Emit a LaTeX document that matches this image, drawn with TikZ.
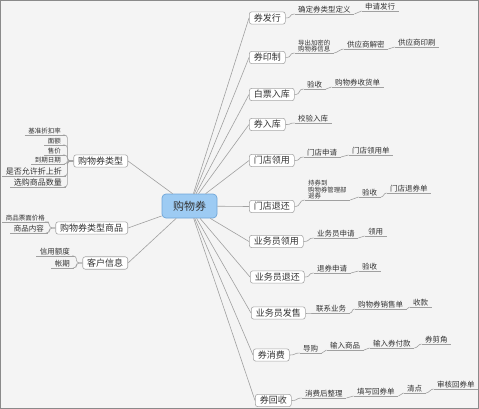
\documentclass[tikz,border=0pt]{standalone}
\usepackage{fontspec}
\setmainfont{Noto Sans CJK SC}
\definecolor{bg}{HTML}{F4F4F4}
\definecolor{frame}{HTML}{8A8A8A}
\definecolor{boxgray}{HTML}{A6A6A6}
\definecolor{linegray}{HTML}{A0A0A0}
\definecolor{txt}{HTML}{333333}
\definecolor{cfill}{HTML}{9DCBF3}
\definecolor{cdraw}{HTML}{6FA6D8}
\tikzset{
  mainbox/.style={draw=boxgray, fill=white, rounded corners=2.5pt, inner xsep=4.5pt, inner ysep=2pt,
    font=\fontsize{9}{10}\selectfont, text=txt, line width=0.6pt},
  centerbox/.style={draw=cdraw, fill=cfill, rounded corners=4pt, minimum width=55pt, minimum height=24pt,
    font=\fontsize{11}{12}\selectfont, text=txt, line width=0.7pt},
  leaf/.style={inner xsep=3.5pt, inner ysep=1pt, font=\fontsize{7.5}{8}\selectfont, text=txt},
  smallleaf/.style={leaf, font=\fontsize{6.5}{7}\selectfont},
  bigleaf/.style={leaf, font=\fontsize{8}{9}\selectfont},
  tinyleaf/.style={leaf, font=\fontsize{6.4}{6.2}\selectfont, align=left},
  conn/.style={draw=linegray, line width=0.6pt},
}
\begin{document}
\begin{tikzpicture}[x=1pt,y=-1pt]
\useasboundingbox (0,0) rectangle (479,409);
\fill[bg] (0,0) rectangle (479,409);
\draw[frame, line width=1pt] (0.5,0.5) rectangle (478.5,408.5);

% center
\node[centerbox] (C) at (189.5,206) {购物券};

% right main nodes
\node[mainbox, anchor=west] (m1) at (249,18) {券发行};
\node[mainbox, anchor=west] (m2) at (249,57.5) {券印制};
\node[mainbox, anchor=west] (m3) at (249,94.5) {白票入库};
\node[mainbox, anchor=west] (m4) at (249,124.5) {券入库};
\node[mainbox, anchor=west] (m5) at (249,160.5) {门店领用};
\node[mainbox, anchor=west] (m6) at (249,206.5) {门店退还};
\node[mainbox, anchor=west] (m7) at (249,241.5) {业务员领用};
\node[mainbox, anchor=west] (m8) at (250,277) {业务员退还};
\node[mainbox, anchor=west] (m9) at (251,313) {业务员发售};
\node[mainbox, anchor=west] (m10) at (253,355) {券消费};
\node[mainbox, anchor=west] (m11) at (255,400.5) {券回收};

% left main nodes
\node[mainbox, anchor=east] (L1) at (128,161) {购物券类型};
\node[mainbox, anchor=east] (L2) at (128,228) {购物券类型商品};
\node[mainbox, anchor=east] (L3) at (128,263) {客户信息};

% main connectors
\foreach \m in {m1,m2,m3,m4,m5,m6,m7,m8,m9,m10,m11}
  \draw[conn] (C) -- (\m.west);
\foreach \m in {L1,L2,L3}
  \draw[conn] (C) -- (\m.east);

% right leaves
\node[leaf, anchor=south west] (r1a) at (294.5,14) {确定券类型定义};
\node[leaf, anchor=south west] (r1b) at (361.5,11) {申请发行};
\node[tinyleaf, anchor=south west] (r2a) at (294.5,53) {导出加密的\\购物券信息};
\node[leaf, anchor=south west] (r2b) at (343.5,49) {供应商解密};
\node[leaf, anchor=south west] (r2c) at (394.5,47) {供应商印刷};
\node[leaf, anchor=south west] (r3a) at (303.5,89) {验收};
\node[leaf, anchor=south west] (r3b) at (331.5,87) {购物券收货单};
\node[leaf, anchor=south west] (r4a) at (294.5,123) {校验入库};
\node[leaf, anchor=south west] (r5a) at (303.5,157) {门店申请};
\node[leaf, anchor=south west] (r5b) at (348.5,155) {门店领用单};
\node[tinyleaf, anchor=south west] (r6a) at (304.5,200) {持券到\\购物券管理部\\退券};
\node[leaf, anchor=south west] (r6b) at (358.5,197) {验收};
\node[leaf, anchor=south west] (r6c) at (386.5,193) {门店退券单};
\node[leaf, anchor=south west] (r7a) at (313.5,238) {业务员申请};
\node[leaf, anchor=south west] (r7b) at (364.5,236) {领用};
\node[leaf, anchor=south west] (r8a) at (313.5,273) {退券申请};
\node[leaf, anchor=south west] (r8b) at (358.5,271) {验收};
\node[leaf, anchor=south west] (r9a) at (312.5,313) {联系业务};
\node[leaf, anchor=south west] (r9b) at (354.5,309) {购物券销售单};
\node[leaf, anchor=south west] (r9c) at (409.5,307) {收款};
\node[leaf, anchor=south west] (r10a) at (299.5,353) {导购};
\node[leaf, anchor=south west] (r10b) at (326.5,350) {输入商品};
\node[leaf, anchor=south west] (r10c) at (369.5,348) {输入券付款};
\node[leaf, anchor=south west] (r10d) at (421.5,344) {券剪角};
\node[leaf, anchor=south west] (r11a) at (301.5,398) {消费后整理};
\node[leaf, anchor=south west] (r11b) at (353.5,396) {填写回券单};
\node[leaf, anchor=south west] (r11c) at (403.5,393) {清点};
\node[leaf, anchor=south west] (r11d) at (433.5,389) {审核回券单};

% left leaves
\node[smallleaf, anchor=south east] (l1a) at (64.5,135) {基准折扣率};
\node[smallleaf, anchor=south east] (l1b) at (64.5,145) {面额};
\node[smallleaf, anchor=south east] (l1c) at (64.5,155) {售价};
\node[smallleaf, anchor=south east] (l1d) at (64.5,164) {到期日期};
\node[bigleaf, anchor=south east] (l1e) at (65.5,176) {是否允许折上折};
\node[bigleaf, anchor=south east] (l1f) at (65.5,187) {选购商品数量};
\node[smallleaf, anchor=south east] (l2a) at (48.5,222) {商品票面价格};
\node[leaf, anchor=south east] (l2b) at (47.5,233) {商品内容};
\node[leaf, anchor=south east] (l3a) at (73.5,256) {信用额度};
\node[leaf, anchor=south east] (l3b) at (73.5,268) {帐期};

% underlines
\foreach \n in {r1a,r1b,r2a,r2b,r2c,r3a,r3b,r4a,r5a,r5b,r6a,r6b,r6c,r7a,r7b,r8a,r8b,
  r9a,r9b,r9c,r10a,r10b,r10c,r10d,r11a,r11b,r11c,r11d,
  l1a,l1b,l1c,l1d,l1e,l1f,l2a,l2b,l3a,l3b}
  \draw[conn] (\n.south west) -- (\n.south east);

% box -> first leaf
\foreach \m/\l in {m1/r1a,m2/r2a,m3/r3a,m4/r4a,m5/r5a,m6/r6a,m7/r7a,m8/r8a,m9/r9a,m10/r10a,m11/r11a}
  \draw[conn] (\m.east) .. controls +(7,0) and +(-6,0) .. (\l.south west);

% leaf chains
\foreach \a/\b in {r1a/r1b,r2a/r2b,r2b/r2c,r3a/r3b,r5a/r5b,r6a/r6b,r6b/r6c,r7a/r7b,r8a/r8b,
  r9a/r9b,r9b/r9c,r10a/r10b,r10b/r10c,r10c/r10d,r11a/r11b,r11b/r11c,r11c/r11d}
  \draw[conn] (\a.south east) .. controls +(3,0) and +(-3,0) .. (\b.south west);

% left trees
\foreach \l in {l1a,l1b,l1c,l1d,l1e,l1f}
  \draw[conn, rounded corners=3pt] (L1.west) -- ++(-6,0) |- (\l.south east);
\foreach \l in {l2a,l2b}
  \draw[conn, rounded corners=3pt] (L2.west) -- ++(-6,0) |- (\l.south east);
\foreach \l in {l3a,l3b}
  \draw[conn, rounded corners=3pt] (L3.west) -- ++(-6,0) |- (\l.south east);
\end{tikzpicture}
\end{document}
